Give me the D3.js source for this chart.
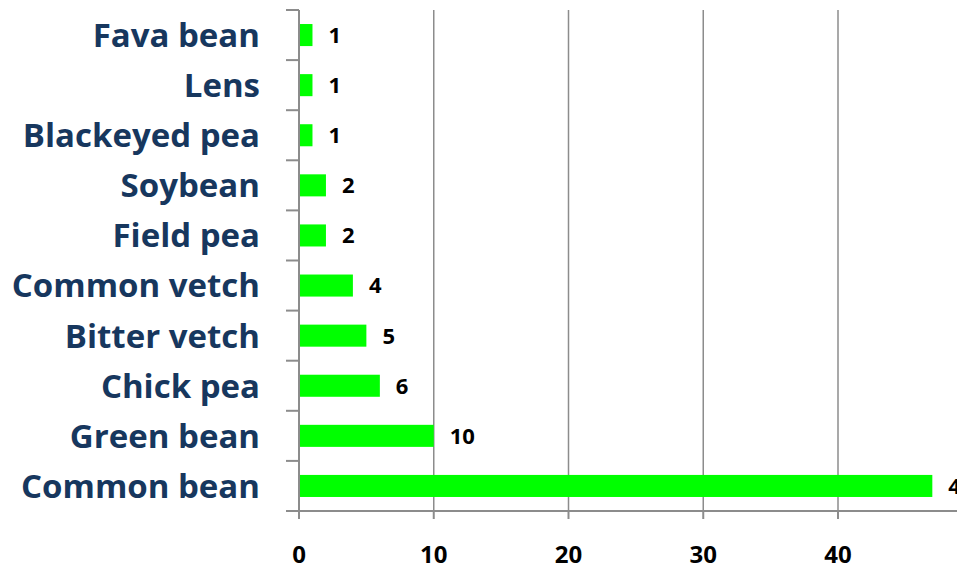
<!DOCTYPE html>
<html>
<head>
<meta charset="utf-8">
<script src="https://cdn.jsdelivr.net/npm/d3@7"></script>
<style>
  body { margin: 0; background: #fff; }
  .cat text { font-family: "Open Sans", Lato, sans-serif; font-weight: bold; }
</style>
</head>
<body>
<div id="chart"></div>
<script>
var categories = ["Fava bean", "Lens", "Blackeyed pea", "Soybean", "Field pea",
  "Common vetch", "Bitter vetch", "Chick pea", "Green bean", "Common bean"];
var counts = [1, 1, 1, 2, 2, 4, 5, 6, 10, 47];
var xTicks = [0, 10, 20, 30, 40];

const W = 957, H = 568;
const margin = {top: 10, right: 0, bottom: 57, left: 299};

var svg = d3.select("#chart").append("svg")
  .attr("width", W)
  .attr("height", H);

var x = d3.scaleLinear().domain([0, 40]).range([margin.left, 838]);
var y = d3.scaleBand().domain(categories).range([margin.top, H - margin.bottom]).paddingInner(0.56).paddingOuter(0.28);

// vertical gridlines
svg.selectAll("line.grid")
  .data(xTicks.slice(1))
  .enter().append("line")
  .attr("class", "grid")
  .attr("x1", d => x(d)).attr("x2", d => x(d))
  .attr("y1", margin.top).attr("y2", H - margin.bottom)
  .attr("stroke", "#8c8c8c").attr("stroke-width", 1.5);

// bars
svg.selectAll("rect.bar")
  .data(categories)
  .enter().append("rect")
  .attr("class", "bar")
  .attr("x", x(0))
  .attr("y", d => y(d))
  .attr("width", (d, i) => x(counts[i]) - x(0))
  .attr("height", y.bandwidth())
  .attr("fill", "#00ff00");

// value labels (the 47 runs off the right edge, as in the original)
svg.selectAll("text.val")
  .data(categories)
  .enter().append("text")
  .attr("class", "val")
  .attr("x", (d, i) => x(counts[i]) + 16)
  .attr("y", d => y(d) + y.bandwidth() / 2)
  .attr("dy", "0.36em")
  .attr("font-family", "'Open Sans', Lato, sans-serif")
  .attr("font-weight", "bold")
  .attr("font-size", 22)
  .attr("fill", "#000")
  .text((d, i) => counts[i]);

// left axis
var step = (H - margin.bottom - margin.top) / categories.length;
var yAxis = svg.append("g").attr("class", "cat");
yAxis.append("line")
  .attr("x1", margin.left).attr("x2", margin.left)
  .attr("y1", margin.top).attr("y2", H - margin.bottom)
  .attr("stroke", "#8c8c8c").attr("stroke-width", 2);
yAxis.selectAll("line.tick")
  .data(d3.range(categories.length + 1))
  .enter().append("line")
  .attr("class", "tick")
  .attr("x1", margin.left - 13).attr("x2", margin.left)
  .attr("y1", d => margin.top + d * step).attr("y2", d => margin.top + d * step)
  .attr("stroke", "#8c8c8c").attr("stroke-width", 2);
yAxis.selectAll("text")
  .data(categories)
  .enter().append("text")
  .attr("x", 260)
  .attr("y", d => y(d) + y.bandwidth() / 2)
  .attr("dy", "0.36em")
  .attr("text-anchor", "end")
  .attr("font-size", 33)
  .attr("fill", "#17375e")
  .text(d => d);

// bottom axis
var xAxis = svg.append("g");
xAxis.append("line")
  .attr("x1", margin.left).attr("x2", W)
  .attr("y1", H - margin.bottom).attr("y2", H - margin.bottom)
  .attr("stroke", "#8c8c8c").attr("stroke-width", 2);
xAxis.selectAll("line.tick")
  .data(xTicks)
  .enter().append("line")
  .attr("x1", d => x(d)).attr("x2", d => x(d))
  .attr("y1", H - margin.bottom).attr("y2", H - margin.bottom + 8)
  .attr("stroke", "#8c8c8c").attr("stroke-width", 2);
xAxis.selectAll("text")
  .data(xTicks)
  .enter().append("text")
  .attr("x", d => x(d))
  .attr("y", 554)
  .attr("dy", "0.36em")
  .attr("text-anchor", "middle")
  .attr("font-family", "'Open Sans', Lato, sans-serif")
  .attr("font-weight", "bold")
  .attr("font-size", 24)
  .attr("fill", "#000")
  .text(d => d);
</script>
</body>
</html>
